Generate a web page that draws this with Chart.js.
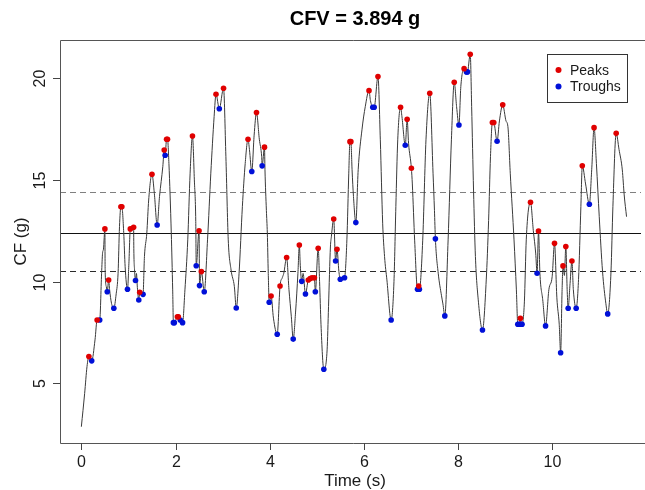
<!DOCTYPE html>
<html><head><meta charset="utf-8">
<script src="https://cdn.jsdelivr.net/npm/chart.js@4.4.0/dist/chart.umd.min.js"></script>
<style>html,body{margin:0;padding:0;background:#fff;overflow:hidden}#wrap{width:645px;height:490px;position:relative}</style>
</head><body><div id="wrap"><canvas id="c" width="645" height="490"></canvas></div>
<script>
// ---- data ----
const time = [0.00,0.07,0.12,0.16,0.22,0.29,0.335,0.39,0.43,0.45,0.47,0.50,0.505,0.53,0.55,0.58,0.60,0.64,0.69,0.74,0.78,0.81,0.84,0.86,0.90,0.93,0.98,1.01,1.04,1.07,1.11,1.115,1.13,1.15,1.17,1.19,1.22,1.24,1.27,1.31,1.34,1.39,1.43,1.50,1.55,1.61,1.66,1.73,1.76,1.78,1.81,1.83,1.86,1.91,1.94,1.955,1.975,2.04,2.06,2.10,2.15,2.20,2.26,2.31,2.36,2.40,2.43,2.44,2.50,2.51,2.55,2.61,2.68,2.75,2.82,2.86,2.93,3.02,3.07,3.12,3.18,3.25,3.29,3.35,3.42,3.48,3.54,3.57,3.62,3.67,3.72,3.78,3.83,3.84,3.89,3.90,3.93,3.95,3.97,3.99,4.03,4.08,4.16,4.22,4.27,4.30,4.36,4.41,4.46,4.50,4.55,4.60,4.63,4.65,4.68,4.71,4.76,4.82,4.86,4.90,4.95,4.97,5.03,5.06,5.09,5.15,5.22,5.25,5.29,5.31,5.36,5.40,5.43,5.47,5.50,5.59,5.64,5.68,5.705,5.725,5.75,5.78,5.83,5.88,5.96,6.03,6.11,6.14,6.19,6.22,6.30,6.35,6.40,6.44,6.49,6.58,6.64,6.68,6.72,6.78,6.81,6.88,6.92,6.95,7.01,7.03,7.08,7.14,7.165,7.18,7.25,7.32,7.40,7.47,7.50,7.52,7.58,7.65,7.68,7.72,7.79,7.86,7.92,7.97,8.02,8.06,8.13,8.18,8.20,8.26,8.29,8.33,8.37,8.43,8.52,8.60,8.65,8.69,8.73,8.76,8.83,8.88,8.95,9.02,9.06,9.11,9.19,9.24,9.27,9.30,9.325,9.34,9.36,9.41,9.45,9.54,9.60,9.65,9.68,9.71,9.74,9.80,9.86,9.93,10.00,10.05,10.10,10.15,10.18,10.21,10.23,10.26,10.29,10.32,10.34,10.38,10.42,10.45,10.51,10.56,10.61,10.64,10.71,10.79,10.84,10.89,10.94,11.00,11.07,11.14,11.18,11.25,11.29,11.36,11.42,11.49,11.53,11.58];
const cf = [2.86,4.50,5.82,6.31,6.10,7.13,8.11,8.11,10.41,11.39,11.6,12.59,10.6,9.75,9.50,10.08,9.60,8.93,8.69,9.40,10.41,12.70,13.68,13.68,12.40,10.73,9.62,10.90,12.59,12.50,12.67,11.50,10.57,10.05,10.40,9.70,9.09,9.47,9.35,9.37,11.23,12.38,14.01,15.28,14.34,12.78,14.18,15.65,16.47,16.21,17.00,17.00,15.80,12.38,9.59,7.98,7.98,8.27,8.27,8.11,7.98,9.59,12.05,15.33,17.16,15.00,12.95,10.78,12.50,9.80,10.49,9.50,12.05,15.33,18.11,19.21,18.50,19.51,16.14,12.05,10.57,9.75,8.70,10.41,13.68,15.80,17.00,16.50,15.41,17.20,18.31,17.00,16.14,15.69,16.61,15.50,13.50,12.38,10.40,8.98,9.29,8.20,7.41,9.78,10.20,10.41,11.18,9.60,8.27,7.17,8.50,10.41,11.80,10.80,10.01,10.40,9.39,10.08,10.15,10.19,10.19,9.50,11.64,10.00,7.90,5.69,6.64,8.77,11.70,12.20,13.08,11.01,11.59,10.50,10.11,10.19,12.05,15.33,16.88,16.88,15.50,14.18,12.90,15.50,17.46,18.60,19.39,18.90,18.57,18.57,20.08,16.97,12.87,11.23,10.08,8.11,10.00,13.68,16.97,18.57,18.10,16.70,17.98,16.80,15.57,14.80,12.00,9.62,9.78,9.62,12.00,16.97,19.26,15.33,13.50,12.10,10.41,9.30,8.90,8.31,12.05,16.97,19.80,18.60,17.70,19.59,20.47,20.31,20.31,21.18,18.60,14.50,11.23,9.10,7.62,10.08,13.00,16.14,17.82,17.82,16.90,17.90,18.69,17.90,17.62,15.33,12.05,9.59,7.90,7.90,8.19,7.90,7.90,9.00,12.05,13.90,12.50,11.40,10.41,12.49,10.40,9.10,7.82,9.60,10.24,11.88,9.20,7.90,6.50,9.50,10.77,10.30,11.72,9.50,8.69,9.90,11.01,9.60,8.69,10.10,13.68,15.69,14.80,13.80,15.50,17.57,15.80,13.19,10.50,8.93,8.41,10.50,13.68,17.29,16.50,15.49,14.26,13.19];

const peakTime = [0.16,0.335,0.50,0.58,0.84,0.86,1.04,1.11,1.24,1.50,1.76,1.81,1.83,2.04,2.06,2.36,2.50,2.55,2.86,3.02,3.54,3.72,3.89,4.03,4.22,4.36,4.63,4.82,4.86,4.90,4.95,5.03,5.36,5.43,5.705,5.725,6.11,6.30,6.78,6.92,7.01,7.165,7.40,7.92,8.13,8.26,8.73,8.76,8.95,9.325,9.54,9.71,10.05,10.23,10.29,10.42,10.64,10.89,11.36];
const peakCF = [6.31,8.11,12.59,10.08,13.68,13.68,12.59,12.67,9.47,15.28,16.47,17.00,17.00,8.27,8.27,17.16,12.50,10.49,19.21,19.51,17.00,18.31,16.61,9.29,9.78,11.18,11.80,10.08,10.15,10.19,10.19,11.64,13.08,11.59,16.88,16.88,19.39,20.08,18.57,17.98,15.57,9.78,19.26,19.80,20.47,21.18,17.82,17.82,18.69,8.19,13.90,12.49,11.88,10.77,11.72,11.01,15.69,17.57,17.29];

const troughTime = [0.22,0.39,0.55,0.69,0.98,1.15,1.22,1.31,1.61,1.78,1.955,1.975,2.10,2.15,2.44,2.51,2.61,2.93,3.29,3.62,3.84,3.99,4.16,4.50,4.68,4.76,4.97,5.15,5.40,5.50,5.59,5.83,6.19,6.22,6.58,6.88,7.14,7.18,7.52,7.72,8.02,8.18,8.20,8.52,8.83,9.27,9.30,9.34,9.36,9.68,9.86,10.18,10.34,10.51,10.79,11.18];
const troughCF = [6.10,8.11,9.50,8.69,9.62,10.05,9.09,9.37,12.78,16.21,7.98,7.98,8.11,7.98,10.78,9.80,9.50,18.50,8.70,15.41,15.69,8.98,7.41,7.17,10.01,9.39,9.50,5.69,11.01,10.11,10.19,12.90,18.57,18.57,8.11,16.70,9.62,9.62,12.10,8.31,17.70,20.31,20.31,7.62,16.90,7.90,7.90,7.90,7.90,10.41,7.82,6.50,8.69,8.69,13.80,8.41];

const meanCF = 12.39, lowerCF = 10.54, upperCF = 14.39;
const xTicks = [0, 2, 4, 6, 8, 10];
const yTicks = [5, 10, 15, 20];
const titleText = 'CFV = 3.894 g';
const xTitle = 'Time (s)';
const yTitle = 'CF (g)';
const legendLabels = ['Peaks', 'Troughs'];

// ---- rendering ----
const FONT = '"Liberation Sans", Arial, Helvetica, sans-serif';
const toXY = (xs, ys) => xs.map((x, i) => ({x: x, y: ys[i]}));

const decor = {
  id: 'decor',
  beforeDatasetsDraw(chart) {
    const {ctx, chartArea: a, scales: {y}} = chart;
    ctx.save();
    const hl = (v, color, dash, w) => {
      const py = Math.round(y.getPixelForValue(v)) + 0.5;
      ctx.beginPath();
      ctx.setLineDash(dash);
      ctx.strokeStyle = color;
      ctx.lineWidth = w;
      ctx.moveTo(a.left, py); ctx.lineTo(a.right, py);
      ctx.stroke();
    };
    hl(upperCF, '#808080', [6, 4], 1);
    hl(lowerCF, '#2a2a2a', [6, 4], 1);
    hl(meanCF, '#111111', [], 1.2);
    ctx.restore();
  },
  afterDatasetsDraw(chart) {
    const {ctx, chartArea: a, scales: {x, y}} = chart;
    ctx.save();
    ctx.setLineDash([]);
    // box
    ctx.strokeStyle = '#555';
    ctx.lineWidth = 1;
    ctx.beginPath();
    ctx.moveTo(a.right + 5, a.top + 0.5);
    ctx.lineTo(a.left + 0.5, a.top + 0.5);
    ctx.lineTo(a.left + 0.5, a.bottom + 0.5);
    ctx.lineTo(a.right + 5, a.bottom + 0.5);
    ctx.stroke();
    // x ticks
    ctx.strokeStyle = '#444';
    ctx.fillStyle = '#1a1a1a';
    ctx.font = '16px ' + FONT;
    ctx.textAlign = 'center';
    ctx.textBaseline = 'middle';
    xTicks.forEach(t => {
      const px = Math.round(x.getPixelForValue(t)) + 0.5;
      ctx.beginPath(); ctx.moveTo(px, a.bottom); ctx.lineTo(px, a.bottom + 7); ctx.stroke();
      ctx.fillText(String(t), px, a.bottom + 20);
    });
    // y ticks (rotated labels)
    yTicks.forEach(t => {
      const py = Math.round(y.getPixelForValue(t)) + 0.5;
      ctx.beginPath(); ctx.moveTo(a.left, py); ctx.lineTo(a.left - 7, py); ctx.stroke();
      ctx.save();
      ctx.translate(a.left - 19, py);
      ctx.rotate(-Math.PI / 2);
      ctx.fillText(String(t), 0, 0);
      ctx.restore();
    });
    // axis titles
    ctx.font = '17px ' + FONT;
    const cx = 355;
    ctx.fillText(xTitle, cx, 481);
    ctx.save();
    ctx.translate(21, (a.top + a.bottom) / 2);
    ctx.rotate(-Math.PI / 2);
    ctx.fillText(yTitle, 0, 0);
    ctx.restore();
    // main title
    ctx.font = 'bold 20px ' + FONT;
    ctx.fillStyle = '#000';
    ctx.fillText(titleText, cx, 19);
    // legend
    ctx.strokeStyle = '#333';
    ctx.lineWidth = 1;
    ctx.strokeRect(547.5, 54.5, 80, 48);
    const cols = [chart.data.datasets[0].backgroundColor, chart.data.datasets[1].backgroundColor];
    ctx.font = '14px ' + FONT;
    ctx.textAlign = 'left';
    legendLabels.forEach((lab, i) => {
      const ly = 70 + i * 16.5;
      ctx.beginPath();
      ctx.fillStyle = cols[i];
      ctx.arc(558.5, ly, 3, 0, Math.PI * 2);
      ctx.fill();
      ctx.fillStyle = '#1a1a1a';
      ctx.fillText(lab, 570, ly + 1);
    });
    ctx.restore();
  }
};

new Chart(document.getElementById('c'), {
  type: 'scatter',
  data: {
    datasets: [
      {label: legendLabels[0], data: toXY(peakTime, peakCF), backgroundColor: '#e00000', borderWidth: 0, pointRadius: 2.8, order: 1},
      {label: legendLabels[1], data: toXY(troughTime, troughCF), backgroundColor: '#0010d8', borderWidth: 0, pointRadius: 2.8, order: 2},
      {label: 'CF', data: toXY(time, cf), showLine: true, borderColor: '#3a3a3a', borderWidth: 1, pointRadius: 0, cubicInterpolationMode: 'monotone', fill: false, order: 3}
    ]
  },
  options: {
    responsive: false,
    animation: false,
    events: [],
    layout: {padding: {left: 60, top: 40, right: 0, bottom: 47}},
    scales: {
      x: {type: 'linear', display: false, min: -0.4536, max: 11.887},
      y: {type: 'linear', display: false, min: 2.06, max: 21.88}
    },
    plugins: {legend: {display: false}, tooltip: {enabled: false}, title: {display: false}}
  },
  plugins: [decor]
});
</script>
</body></html>
